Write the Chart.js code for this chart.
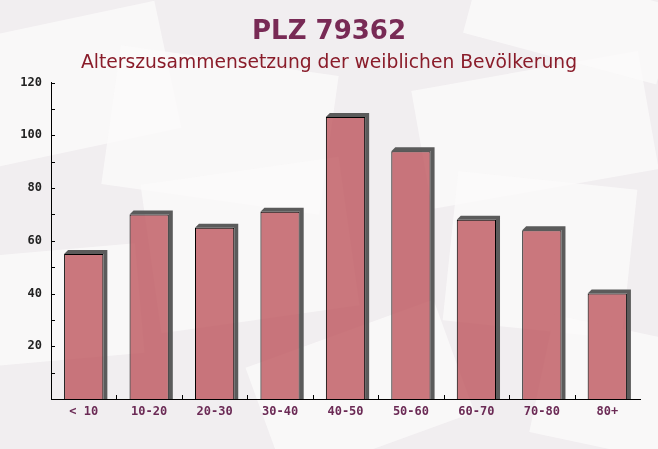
<!DOCTYPE html>
<html lang="de">
<head>
    <meta charset="UTF-8">
    <title>PLZ 79362</title>
    <script src="https://cdn.jsdelivr.net/npm/chart.js"></script>
    <style>
        html, body {
            margin: 0;
            padding: 0;
            width: 658px;
            height: 449px;
            overflow: hidden;
            background: #f1eef0;
        }
        .bg {
            position: absolute;
            background: #fbfafa;
            opacity: 0.8;
        }
        #wrap {
            position: absolute;
            left: 0;
            top: 0;
            width: 658px;
            height: 449px;
        }
    </style>
</head>
<body>

<div class="bg" style="left:-30px;top:20px;width:200px;height:130px;transform:rotate(-12deg)"></div>
<div class="bg" style="left:110px;top:60px;width:220px;height:140px;transform:rotate(8deg)"></div>
<div class="bg" style="left:420px;top:70px;width:230px;height:120px;transform:rotate(-10deg)"></div>
<div class="bg" style="left:470px;top:-20px;width:200px;height:80px;transform:rotate(15deg)"></div>
<div class="bg" style="left:150px;top:170px;width:200px;height:150px;transform:rotate(-8deg)"></div>
<div class="bg" style="left:450px;top:180px;width:180px;height:150px;transform:rotate(6deg)"></div>
<div class="bg" style="left:260px;top:330px;width:200px;height:120px;transform:rotate(-20deg)"></div>
<div class="bg" style="left:-20px;top:250px;width:160px;height:110px;transform:rotate(-5deg)"></div>
<div class="bg" style="left:540px;top:330px;width:160px;height:120px;transform:rotate(12deg)"></div>

<div id="wrap"><canvas id="ageChart"></canvas></div>

<script>
    const categories = ['< 10', '10-20', '20-30', '30-40', '40-50', '50-60', '60-70', '70-80', '80+'];
    const femaleCounts = [55, 70, 65, 71, 107, 94, 68, 64, 40];
    const yTickValues = [0, 20, 40, 60, 80, 100, 120];

    // dark 3D extrusion behind each bar
    const barShadow = {
        id: 'barShadow',
        beforeDatasetsDraw(chart) {
            const ctx = chart.ctx;
            const meta = chart.getDatasetMeta(0);
            const d = 4;
            ctx.save();
            ctx.fillStyle = '#5b5b5b';
            meta.data.forEach(bar => {
                const left = bar.x - bar.width / 2;
                const right = bar.x + bar.width / 2;
                ctx.beginPath();
                ctx.moveTo(left, bar.y);
                ctx.lineTo(left + d, bar.y - d);
                ctx.lineTo(right + d, bar.y - d);
                ctx.lineTo(right + d, bar.base);
                ctx.lineTo(right, bar.base);
                ctx.lineTo(right, bar.y);
                ctx.closePath();
                ctx.fill();
            });
            ctx.restore();
        }
    };

    // small tick marks pointing into the plot area
    const innerTicks = {
        id: 'innerTicks',
        afterDraw(chart) {
            const ctx = chart.ctx;
            const y = chart.scales.y;
            const x = chart.scales.x;
            ctx.save();
            ctx.strokeStyle = '#000';
            ctx.lineWidth = 1;
            ctx.beginPath();
            for (let v = 10; v <= 120; v += 10) {
                const py = Math.round(y.getPixelForValue(v)) + 0.5;
                ctx.moveTo(y.right, py);
                ctx.lineTo(y.right + 4, py);
            }
            for (let i = 1; i < categories.length; i++) {
                const px = Math.round((x.getPixelForValue(i - 1) + x.getPixelForValue(i)) / 2) + 0.5;
                ctx.moveTo(px, x.top);
                ctx.lineTo(px, x.top - 4);
            }
            ctx.stroke();
            ctx.restore();
        }
    };

    const ctx = document.getElementById('ageChart').getContext('2d');

    new Chart(ctx, {
        type: 'bar',
        data: {
            labels: categories,
            datasets: [{
                data: femaleCounts,
                backgroundColor: 'rgba(188, 82, 90, 0.78)',
                borderColor: '#000',
                borderWidth: 1,
                borderSkipped: 'bottom',
                categoryPercentage: 1.0,
                barPercentage: 0.6
            }]
        },
        options: {
            responsive: true,
            maintainAspectRatio: false,
            animation: false,
            layout: {
                padding: { left: 18, right: 18, top: 0, bottom: 0 }
            },
            plugins: {
                legend: { display: false },
                tooltip: { enabled: false },
                title: {
                    display: true,
                    text: 'PLZ 79362',
                    color: '#782a55',
                    font: { family: 'DejaVu Sans', size: 26, weight: 'bold' },
                    padding: { top: 17, bottom: 4 }
                },
                subtitle: {
                    display: true,
                    text: 'Alterszusammensetzung der weiblichen Bevölkerung',
                    color: '#8a1c2a',
                    font: { family: 'DejaVu Sans', size: 18.7 },
                    padding: { top: 0, bottom: 8 }
                }
            },
            scales: {
                x: {
                    offset: true,
                    grid: { display: false, drawTicks: false, tickLength: 0 },
                    border: { display: true, color: '#000', width: 1 },
                    ticks: {
                        color: '#6b2a55',
                        padding: 6,
                        font: { family: 'DejaVu Sans Mono', size: 12, weight: 'bold' }
                    },
                    afterFit(scale) { scale.height = 50; }
                },
                y: {
                    min: 0,
                    max: 120,
                    grid: { display: false, drawTicks: false, tickLength: 0 },
                    border: { display: true, color: '#000', width: 1 },
                    afterBuildTicks(scale) {
                        scale.ticks = yTickValues.map(v => ({ value: v }));
                    },
                    ticks: {
                        color: '#222',
                        padding: 9,
                        font: { family: 'DejaVu Sans Mono', size: 12, weight: 'bold' },
                        callback: v => v === 0 ? '' : v
                    },
                    afterFit(scale) { scale.width = 33; }
                }
            }
        },
        plugins: [barShadow, innerTicks]
    });
</script>

</body>
</html>
